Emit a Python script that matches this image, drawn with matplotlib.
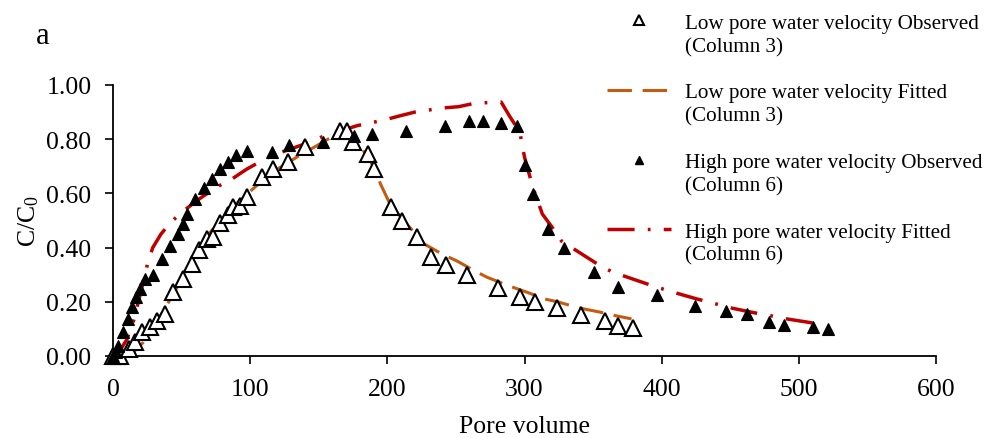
import matplotlib
matplotlib.use("Agg")
import matplotlib.pyplot as plt
from matplotlib.lines import Line2D

plt.rcParams['font.family'] = ['Liberation Serif', 'DejaVu Serif']
plt.rcParams['mathtext.fontset'] = 'custom'
plt.rcParams['mathtext.rm'] = 'Liberation Serif'
plt.rcParams['mathtext.it'] = 'Liberation Serif:italic'

# Low pore water velocity (Column 3) - observed
low_obs_x = [0, 3, 5, 12, 16, 21, 27, 32, 38, 44, 51, 57.6, 63, 68.5, 73, 78, 84, 87.5,
             92.5, 97.6, 108.6, 116.6, 127.5, 140, 165.5, 170.5, 175, 186, 190, 203, 211,
             221.5, 232, 243, 258, 281, 297, 307.5, 324, 341, 358.6, 368, 379]
low_obs_y = [0, 0, 0, 0.026, 0.05, 0.088, 0.107, 0.13, 0.155, 0.235, 0.284, 0.34, 0.39, 0.43,
             0.44, 0.49, 0.52, 0.55, 0.555, 0.585, 0.66, 0.69, 0.715, 0.77, 0.83, 0.83, 0.79,
             0.745, 0.69, 0.55, 0.50, 0.44, 0.365, 0.336, 0.30, 0.25, 0.218, 0.20, 0.177,
             0.151, 0.129, 0.111, 0.103]

# Low pore water velocity (Column 3) - fitted
low_fit_x = [8, 15, 22, 30, 43, 55, 71, 85, 105, 120, 136, 150, 160, 167, 175, 185, 191,
             195, 202, 213, 227, 240, 251, 264, 273, 289, 302, 315, 324, 340, 355, 367, 378]
low_fit_y = [0.0, 0.015, 0.05, 0.11, 0.22, 0.33, 0.457, 0.54, 0.63, 0.69, 0.74, 0.78, 0.81,
             0.835, 0.81, 0.74, 0.69, 0.635, 0.56, 0.494, 0.413, 0.376, 0.35, 0.313, 0.29,
             0.258, 0.235, 0.21, 0.20, 0.177, 0.162, 0.148, 0.137]

# High pore water velocity (Column 6) - observed
high_obs_x = [0, 2, 4, 7.5, 11, 14, 17, 20, 23, 29, 35.5, 41.5, 47.5, 51, 54, 60, 66, 72, 78,
              84, 90, 97.5, 116, 128, 153, 176, 189, 213.5, 242, 259.5, 270, 282.8, 294.5,
              300, 306, 317, 328.7, 351, 368, 396.5, 424, 447, 462, 478, 489, 510, 521]
high_obs_y = [0, 0.015, 0.037, 0.088, 0.135, 0.18, 0.218, 0.248, 0.284, 0.30, 0.357, 0.406,
              0.45, 0.487, 0.524, 0.58, 0.62, 0.653, 0.69, 0.715, 0.74, 0.756, 0.753, 0.78,
              0.79, 0.81, 0.82, 0.83, 0.85, 0.867, 0.867, 0.86, 0.85, 0.705, 0.598, 0.469,
              0.40, 0.31, 0.254, 0.225, 0.185, 0.166, 0.155, 0.125, 0.114, 0.107, 0.10]

# High pore water velocity (Column 6) - fitted
high_fit_x = [0, 5, 10, 15, 20, 25.5, 29, 35, 41.5, 50, 63, 75.8, 86.7, 97.6, 112, 125,
              138.5, 153, 165.5, 178, 197, 209, 220, 240, 252, 264, 283, 289, 296.6, 300,
              306, 313, 320, 327, 344, 353, 364, 383, 394, 408, 426, 437, 448, 468, 480,
              491, 510]
high_fit_y = [0, 0.02, 0.06, 0.13, 0.23, 0.347, 0.40, 0.45, 0.49, 0.53, 0.58, 0.624, 0.653,
              0.69, 0.73, 0.756, 0.78, 0.81, 0.83, 0.85, 0.87, 0.886, 0.90, 0.915, 0.92,
              0.933, 0.937, 0.886, 0.826, 0.734, 0.624, 0.524, 0.476, 0.424, 0.369, 0.34,
              0.31, 0.277, 0.258, 0.236, 0.21, 0.196, 0.18, 0.159, 0.148, 0.137, 0.122]

x_ticks = [0, 100, 200, 300, 400, 500, 600]
y_ticks = [0.0, 0.2, 0.4, 0.6, 0.8, 1.0]

ORANGE = '#C55A11'
RED = '#C00000'

fig = plt.figure(figsize=(9.89, 4.39), dpi=100)
ax = fig.add_axes([113 / 989, 1 - 357 / 439, (936 - 113) / 989, (357 - 86) / 439])

h_lo_fit, = ax.plot(low_fit_x, low_fit_y, color=ORANGE, lw=2.2, dashes=(8, 3.5), zorder=2)
h_hi_fit, = ax.plot(high_fit_x, high_fit_y, color=RED, lw=2.5,
                    dashes=(7.8, 3.8, 0.8, 3.8), zorder=2)
h_lo_obs, = ax.plot(low_obs_x, low_obs_y, linestyle='none', marker='^', ms=11,
                    mfc='white', mec='black', mew=1.5, clip_on=False, zorder=3)
h_hi_obs, = ax.plot(high_obs_x, high_obs_y, linestyle='none', marker='^', ms=9,
                    mfc='black', mec='black', mew=0.8, clip_on=False, zorder=4)

ax.set_xlim(0, 600)
ax.set_ylim(0, 1.0)
ax.set_xticks(x_ticks)
ax.set_yticks(y_ticks)
ax.set_yticklabels([f"{v:.2f}" for v in y_ticks])
ax.tick_params(direction='out', length=5.5, width=1.2, labelsize=18.5, pad=10)
for s in ('top', 'right'):
    ax.spines[s].set_visible(False)
for s in ('left', 'bottom'):
    ax.spines[s].set_linewidth(1.3)

ax.set_xlabel('Pore volume', fontsize=18.5, labelpad=11)
ax.set_ylabel(r'C/C$_{0}$', fontsize=18.5, labelpad=4)
fig.text(36 / 989, 1 - 36 / 439, 'a', fontsize=22, ha='left', va='center')

# legend: first line of each label sits next to its handle, second line below it
blank = Line2D([], [], linestyle='none')
lo_obs_h = Line2D([], [], linestyle='none', marker='^', ms=7, mfc='white', mec='black', mew=1.5)
hi_obs_h = Line2D([], [], linestyle='none', marker='^', ms=6, mfc='black', mec='black')
handles = [lo_obs_h, blank, blank,
           h_lo_fit, blank, blank,
           hi_obs_h, blank, blank,
           h_hi_fit, blank]
labels = ['Low pore water velocity Observed', '(Column 3)', '',
          'Low pore water velocity Fitted', '(Column 3)', '',
          'High pore water velocity Observed', '(Column 6)', '',
          'High pore water velocity Fitted', '(Column 6)']
fig.legend(handles, labels, loc='upper left', bbox_to_anchor=(607 / 989, 1 - 14 / 439),
           frameon=False, fontsize=15.25, handlelength=3.0, handletextpad=0.67,
           labelspacing=0.16, borderpad=0, borderaxespad=0)

fig.savefig('out.png', dpi=100)
